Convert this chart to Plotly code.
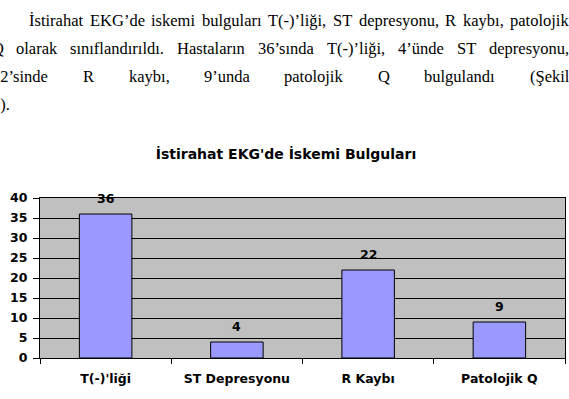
import plotly.graph_objects as go

# ---- data ----
categories = ["T(-)'liği", "ST Depresyonu", "R Kaybı", "Patolojik Q"]
values = [36, 4, 22, 9]
y_ticks = [0, 5, 10, 15, 20, 25, 30, 35, 40]
chart_title = "İstirahat EKG'de İskemi Bulguları"

# ---- body text above the chart (justified paragraph, cropped at the page edges) ----
body_lines = [
    "İstirahat EKG’de iskemi bulguları T(-)’liği, ST depresyonu, R kaybı, patolojik",
    "Q olarak sınıflandırıldı. Hastaların 36’sında T(-)’liği, 4’ünde ST depresyonu,",
    "22’sinde R kaybı, 9’unda patolojik Q bulgulandı (Şekil",
    "1).",
]

W, H = 569, 399
L, R, T, B = 40, 4, 198, 41
PW, PH = W - L - R, H - T - B

BODY_SIZE = 16.5
LINE_Y = [20, 48, 76, 104]          # text line centres, px from top
LINE_LEFT = [29, -8.5, -8.5, -8.5]  # left edge of each line, px
LINE_RIGHT = 569                    # justified right edge, px
JUSTIFY = [True, True, True, False]

# Times/Liberation Serif advance widths (per 1000 em)
TW = {" ": 250, "a": 444, "b": 500, "c": 444, "d": 500, "e": 444, "f": 333, "g": 500,
      "h": 500, "i": 278, "j": 278, "k": 500, "l": 278, "m": 778, "n": 500, "o": 500,
      "p": 500, "r": 333, "s": 389, "t": 278, "u": 500, "y": 500, "ı": 278, "ğ": 500,
      "ü": 500, "ş": 389, "A": 722, "E": 611, "G": 722, "H": 722, "K": 722, "Q": 722,
      "R": 667, "S": 556, "T": 611, "İ": 333, "Ş": 556, "(": 333, ")": 333, "-": 333,
      "’": 333, ",": 250, ".": 250}
for dgt in "0123456789":
    TW[dgt] = 500


def word_w(w):
    return sum(TW.get(ch, 500) for ch in w) * BODY_SIZE / 1000.0


def px_x(px):
    return (px - L) / PW


def px_y(py):
    return (H - B - py) / PH


fig = go.Figure()
fig.add_trace(go.Bar(
    x=categories, y=values, width=0.4,
    marker=dict(color="#9999FF", line=dict(color="#000000", width=1)),
    hoverinfo="skip",
))

annotations = []
for c, v in zip(categories, values):
    annotations.append(dict(
        x=c, y=v, xref="x", yref="y", text=str(v), showarrow=False,
        yanchor="middle", yshift=16, borderpad=0,
        font=dict(family="DejaVu Sans", size=12.5, color="#000000", weight="bold"),
    ))

for line, yc, left, just in zip(body_lines, LINE_Y, LINE_LEFT, JUSTIFY):
    words = line.split(" ")
    widths = [word_w(w) for w in words]
    if just and len(words) > 1:
        gap = (LINE_RIGHT - left - sum(widths)) / (len(words) - 1)
    else:
        gap = TW[" "] * BODY_SIZE / 1000.0
    xpos = left
    for w, ww in zip(words, widths):
        annotations.append(dict(
            x=px_x(xpos), y=px_y(yc), xref="paper", yref="paper", text=w,
            showarrow=False, xanchor="left", yanchor="middle", borderpad=0,
            borderwidth=0,
            font=dict(family="Liberation Serif", size=BODY_SIZE, color="#000000"),
        ))
        xpos += ww + gap

fig.update_layout(
    width=W, height=H,
    margin=dict(l=L, r=R, t=T, b=B, pad=0),
    paper_bgcolor="#FFFFFF",
    plot_bgcolor="#C0C0C0",
    showlegend=False,
    title=dict(
        text=chart_title, xref="container", yref="container",
        x=286 / W, xanchor="center", y=1 - 154 / H, yanchor="middle",
        font=dict(family="DejaVu Sans", size=14, color="#000000", weight="bold"),
    ),
    annotations=annotations,
    xaxis=dict(
        type="category", showline=True, linecolor="#000000", linewidth=1,
        mirror=True, ticks="outside", tickson="boundaries", ticklen=5,
        tickcolor="#000000", showgrid=False, ticklabelstandoff=9,
        tickfont=dict(family="DejaVu Sans", size=12.5, color="#000000", weight="bold"),
    ),
    yaxis=dict(
        range=[0, 40], tickvals=y_ticks, showline=True, linecolor="#000000",
        linewidth=1, mirror=True, ticks="outside", ticklen=6, tickcolor="#000000",
        showgrid=True, gridcolor="#000000", gridwidth=1, zeroline=False,
        ticklabelstandoff=3,
        tickfont=dict(family="DejaVu Sans", size=12.5, color="#000000", weight="bold"),
    ),
)

fig.write_html("out.html")
